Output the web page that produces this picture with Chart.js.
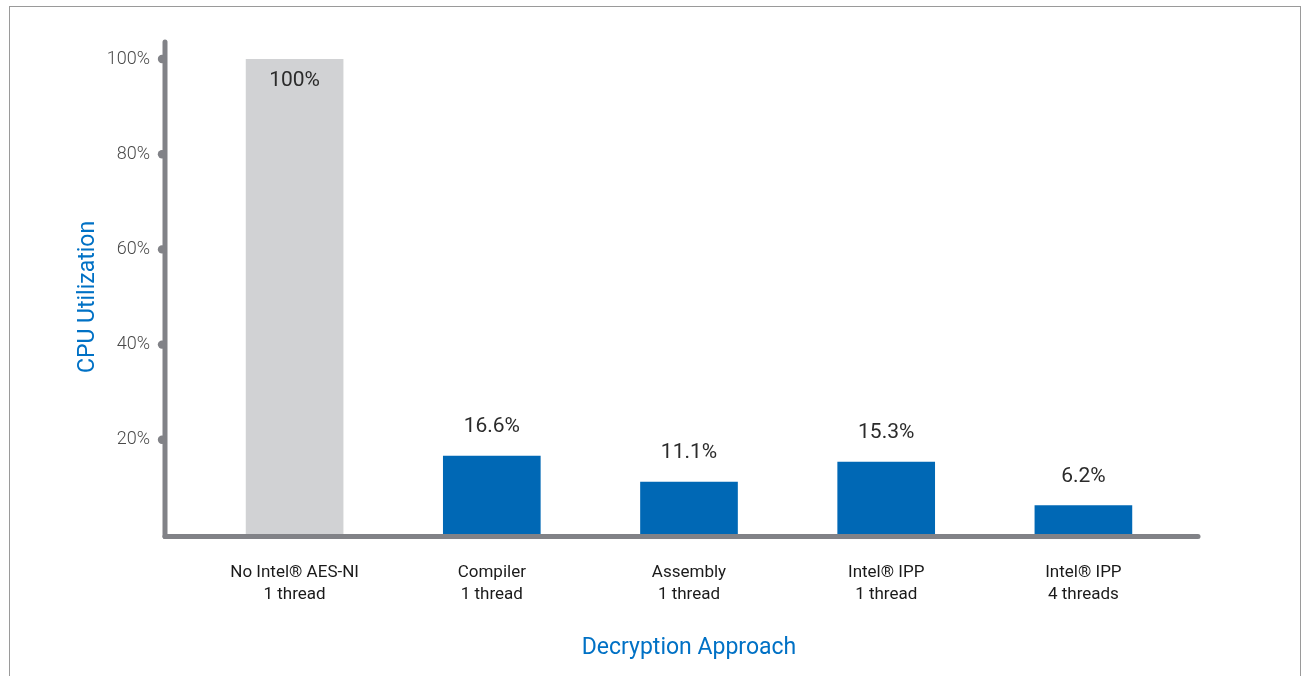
<!DOCTYPE html>
<html>
<head>
<meta charset="utf-8">
<script src="https://cdn.jsdelivr.net/npm/chart.js@4.4.1/dist/chart.umd.min.js"></script>
<style>
    html, body { margin: 0; padding: 0; background: #fff; overflow: hidden; }
    #frame {
        position: absolute; left: 9px; top: 6px; width: 1292px; height: 700px;
        border: 1.5px solid #9a9a9a; border-bottom: none; box-sizing: border-box;
    }
    #wrap { position: absolute; left: 0; top: 0; width: 1304px; height: 676px; }
</style>
</head>
<body>
<div id="frame"></div>
<div id="wrap"><canvas id="cpuChart"></canvas></div>
<script>
// Datos del gráfico
const categories = [
    ['No Intel® AES-NI', '1 thread'],
    ['Compiler', '1 thread'],
    ['Assembly', '1 thread'],
    ['Intel® IPP', '1 thread'],
    ['Intel® IPP', '4 threads']
];
const cpuValues = [100, 16.6, 11.1, 15.3, 6.2];
const valueLabels = ['100%', '16.6%', '11.1%', '15.3%', '6.2%'];
const barColors = ['#d1d2d4', '#0068b5', '#0068b5', '#0068b5', '#0068b5'];
const yTicks = [20, 40, 60, 80, 100];

const FONT = 'Roboto, "Noto Sans", sans-serif';
const AXIS_GRAY = '#818287';

// Ejes dibujados a mano: línea gruesa con puntos redondos
const axisPlugin = {
    id: 'axisPlugin',
    afterDatasetsDraw(chart) {
        const ctx = chart.ctx;
        const area = chart.chartArea;
        const y = chart.scales.y;
        const axisX = area.left - 31;
        const axisY = area.bottom + 1.5;
        ctx.save();
        ctx.strokeStyle = AXIS_GRAY;
        ctx.fillStyle = AXIS_GRAY;
        ctx.lineWidth = 5;
        ctx.lineCap = 'round';
        ctx.beginPath();
        ctx.moveTo(axisX, area.top - 17);
        ctx.lineTo(axisX, axisY);
        ctx.stroke();
        ctx.beginPath();
        ctx.moveTo(axisX, axisY);
        ctx.lineTo(area.right + 16, axisY);
        ctx.stroke();
        yTicks.forEach(v => {
            ctx.beginPath();
            ctx.arc(axisX - 3, y.getPixelForValue(v), 4.2, 0, Math.PI * 2);
            ctx.fill();
        });

        // Etiquetas de valores
        const meta = chart.getDatasetMeta(0);
        ctx.fillStyle = '#2b2b2b';
        ctx.font = '21px ' + FONT;
        ctx.textAlign = 'center';
        ctx.textBaseline = 'middle';
        meta.data.forEach((bar, i) => {
            const ty = cpuValues[i] >= 90 ? bar.y + 22 : bar.y - 29;
            ctx.fillText(valueLabels[i], bar.x, ty);
        });
        ctx.restore();
    }
};

const ctx = document.getElementById('cpuChart').getContext('2d');
const cpuChart = new Chart(ctx, {
    type: 'bar',
    data: {
        labels: categories,
        datasets: [{
            data: cpuValues,
            backgroundColor: barColors,
            barThickness: 97
        }]
    },
    options: {
        responsive: true,
        maintainAspectRatio: false,
        animation: false,
        layout: {
            padding: { top: 59, right: 122, left: 0, bottom: 0 }
        },
        plugins: {
            legend: { display: false },
            tooltip: { enabled: false }
        },
        scales: {
            y: {
                min: 0,
                max: 100,
                afterFit(scale) { scale.width = 196; },
                grid: { display: false },
                border: { display: false },
                ticks: {
                    stepSize: 20,
                    padding: 38,
                    color: '#4a4a4a',
                    font: { family: FONT, size: 18, weight: 300 },
                    callback: v => (v === 0 ? '' : v + '%')
                },
                title: {
                    display: true,
                    text: 'CPU Utilization',
                    color: '#0071c5',
                    font: { family: FONT, size: 23 },
                    padding: { top: 74, bottom: 0 }
                }
            },
            x: {
                afterFit(scale) { scale.height = 141; },
                grid: { display: false },
                border: { display: false },
                ticks: {
                    padding: 18,
                    color: '#1a1a1a',
                    font: { family: FONT, size: 17, lineHeight: 1.33 },
                    maxRotation: 0
                },
                title: {
                    display: true,
                    text: 'Decryption Approach',
                    color: '#0071c5',
                    font: { family: FONT, size: 23 },
                    padding: { top: 0, bottom: 14 }
                }
            }
        }
    },
    plugins: [axisPlugin]
});
</script>
</body>
</html>
